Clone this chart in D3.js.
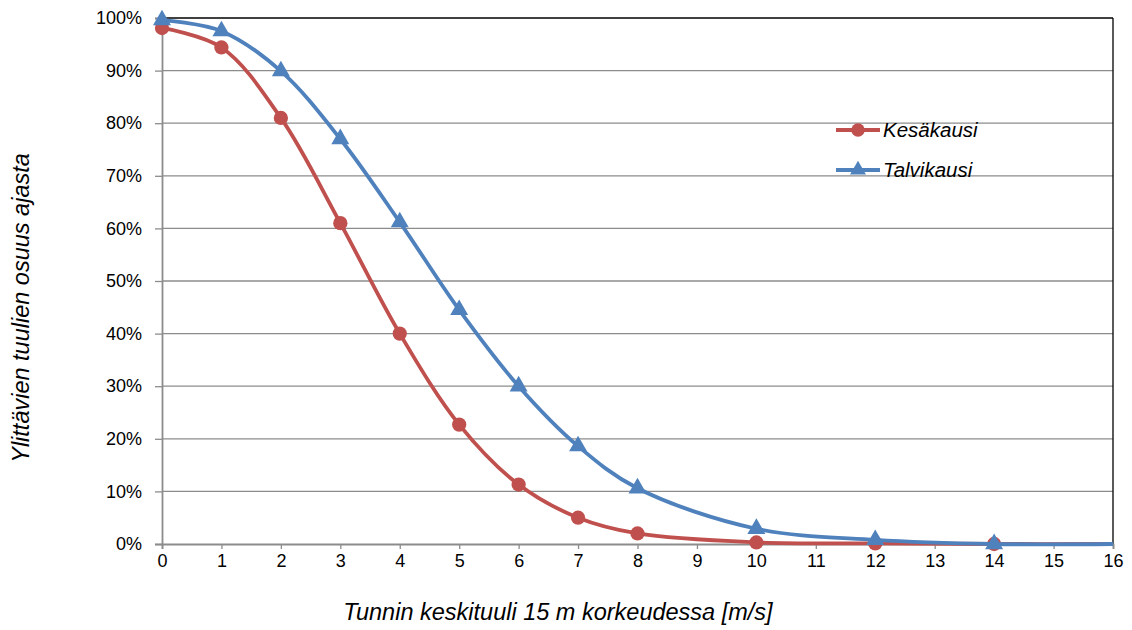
<!DOCTYPE html>
<html><head><meta charset="utf-8">
<script src="https://cdn.jsdelivr.net/npm/d3@7"></script>
<style>body{margin:0;background:#fff}svg{display:block;font-family:"Liberation Sans",Arial,sans-serif}</style>
</head><body>
<svg id="c" width="1132" height="630"></svg>
<script>
const xValues = [0, 1, 2, 3, 4, 5, 6, 7, 8, 10, 12, 14, 16];
const kesakausi = [98.1, 94.4, 81.0, 61.0, 40.0, 22.7, 11.3, 5.0, 2.0, 0.3, 0.1, 0.0, 0.0];
const talvikausi = [99.6, 97.5, 89.9, 77.0, 61.2, 44.5, 30.0, 18.6, 10.6, 2.9, 0.8, 0.0, 0.0];
const markerX = [0, 1, 2, 3, 4, 5, 6, 7, 8, 10, 12, 14];
const xTicks = d3.range(0, 17);
const yTicks = d3.range(0, 101, 10);
const seriesNames = ["Kesäkausi", "Talvikausi"];

const svg = d3.select("#c");
const L = 162, R = 1113, T = 18, B = 544;
const x = d3.scaleLinear().domain([0, 16]).range([L, R]);
const y = d3.scaleLinear().domain([0, 100]).range([B, T]);

// gridlines
svg.append("g").selectAll("line").data(yTicks.filter(d => d > 0 && d < 100)).join("line")
  .attr("x1", L).attr("x2", R).attr("y1", d => y(d)).attr("y2", d => y(d))
  .attr("stroke", "#8c8c8c").attr("stroke-width", 1.3);
// top & right border
svg.append("line").attr("x1", L).attr("x2", R).attr("y1", T).attr("y2", T).attr("stroke", "#000").attr("stroke-width", 1.3);
svg.append("line").attr("x1", R).attr("x2", R).attr("y1", T).attr("y2", B).attr("stroke", "#000").attr("stroke-width", 1.3);

// axes
const xAxis = svg.append("g").attr("transform", `translate(0,${B})`)
  .call(d3.axisBottom(x).tickValues(xTicks).tickSize(5).tickPadding(5).tickFormat(d3.format("d")));
const yAxis = svg.append("g").attr("transform", `translate(${L},0)`)
  .call(d3.axisLeft(y).tickValues(yTicks).tickSize(7).tickPadding(13).tickFormat(d => d + "%"));
[xAxis, yAxis].forEach(g => {
  g.select(".domain").attr("stroke", "#8c8c8c").attr("stroke-width", 1.8);
  g.selectAll(".tick line").attr("stroke", "#8c8c8c").attr("stroke-width", 1.3);
  g.selectAll("text").attr("font-size", 18).attr("fill", "#000").attr("font-family", '"Liberation Sans",Arial,sans-serif');
});

const colors = ["#C0504D", "#4F81BD"];
const data = [kesakausi, talvikausi];
const line = d3.line().x(d => x(d[0])).y(d => y(d[1])).curve(d3.curveCatmullRom.alpha(0.5));
data.forEach((vals, i) => {
  const pts = xValues.map((xv, j) => [xv, vals[j]]);
  svg.append("path").datum(pts).attr("d", line).attr("fill", "none")
    .attr("stroke", colors[i]).attr("stroke-width", 3.8);
  const sym = i === 0 ? d3.symbolCircle : d3.symbolTriangle;
  const sz = i === 0 ? 160 : 140;
  svg.append("g").selectAll("path").data(pts.filter(p => markerX.includes(p[0]))).join("path")
    .attr("transform", d => `translate(${x(d[0])},${y(d[1])})`)
    .attr("d", d3.symbol().type(sym).size(sz)).attr("fill", colors[i]);
});

// legend
seriesNames.forEach((n, i) => {
  const ly = 130 + i * 40;
  svg.append("line").attr("x1", 836).attr("x2", 880).attr("y1", ly).attr("y2", ly)
    .attr("stroke", colors[i]).attr("stroke-width", 3.8);
  svg.append("path").attr("transform", `translate(858,${ly})`)
    .attr("d", d3.symbol().type(i === 0 ? d3.symbolCircle : d3.symbolTriangle).size(i === 0 ? 140 : 110))
    .attr("fill", colors[i]);
  svg.append("text").attr("x", 883).attr("y", ly + 7).text(n)
    .attr("font-size", 20.5).attr("font-style", "italic").attr("fill", "#000");
});

// titles
svg.append("text").attr("x", 558).attr("y", 620).attr("text-anchor", "middle")
  .attr("font-size", 23.5).attr("font-style", "italic").text("Tunnin keskituuli 15 m korkeudessa [m/s]");
svg.append("text").attr("transform", "translate(29,308) rotate(-90)").attr("text-anchor", "middle")
  .attr("font-size", 23.5).attr("font-style", "italic").text("Ylittävien tuulien osuus ajasta");
</script>
</body></html>
